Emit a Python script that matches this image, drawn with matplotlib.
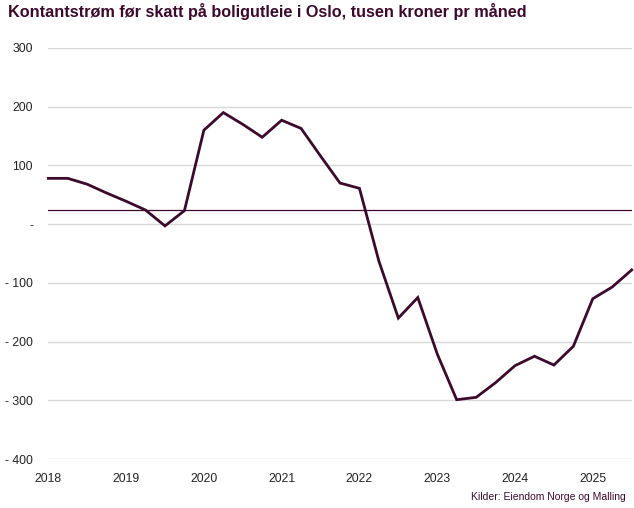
import numpy as np
import matplotlib.pyplot as plt

# kvartalsvis kontantstrøm, 2018K1 - 2025K3
values = [78, 78, 68, 53, 39, 24, -3, 23,
          160, 190, 170, 148, 177, 163, 116, 70,
          61, -63, -160, -125, -221, -299, -295, -270,
          -241, -225, -240, -208, -127, -107, -78]
years = ['2018', '2019', '2020', '2021', '2022', '2023', '2024', '2025']
y_ticks = [300, 200, 100, 0, -100, -200, -300, -400]
ref_level = 24

maroon = '#3c0a2b'
plt.rcParams['font.family'] = ['Liberation Sans', 'DejaVu Sans']

fig = plt.figure(figsize=(6.34, 5.08), dpi=100)
ax = fig.add_axes([48.3 / 634, 49 / 508, (631.7 - 48.3) / 634, 411 / 508])

x = np.arange(len(values))
ax.plot(x, values, color=maroon, lw=2.0, clip_on=False, zorder=3, solid_joinstyle='miter')
ax.axhline(ref_level, color=maroon, lw=0.9, zorder=2)

ax.set_xlim(0, len(values) - 1)
ax.set_ylim(-400, 300)
ax.set_yticks(y_ticks)
ax.set_yticklabels(['-' if v == 0 else ('- %d' % -v if v < 0 else str(v)) for v in y_ticks])
ax.set_xticks(np.arange(len(years)) * 4)
ax.set_xticklabels(years)
ax.grid(axis='y', color='#d9d9d9', lw=1.0)
ax.set_axisbelow(True)
for s in ax.spines.values():
    s.set_visible(False)
ax.tick_params(length=0, labelsize=8.8, colors='#222222')
ax.tick_params(axis='y', pad=11)
ax.tick_params(axis='x', pad=10)

fig.text(8 / 634, 1 - 12 / 508, 'Kontantstrøm før skatt på boligutleie i Oslo, tusen kroner pr måned',
         fontsize=11.7, fontweight='bold', color=maroon, va='center', ha='left')
fig.text(626 / 634, 1 - 497 / 508, 'Kilder: Eiendom Norge og Malling',
         fontsize=7.5, color=maroon, va='center', ha='right')

fig.savefig('out.png', dpi=100)
